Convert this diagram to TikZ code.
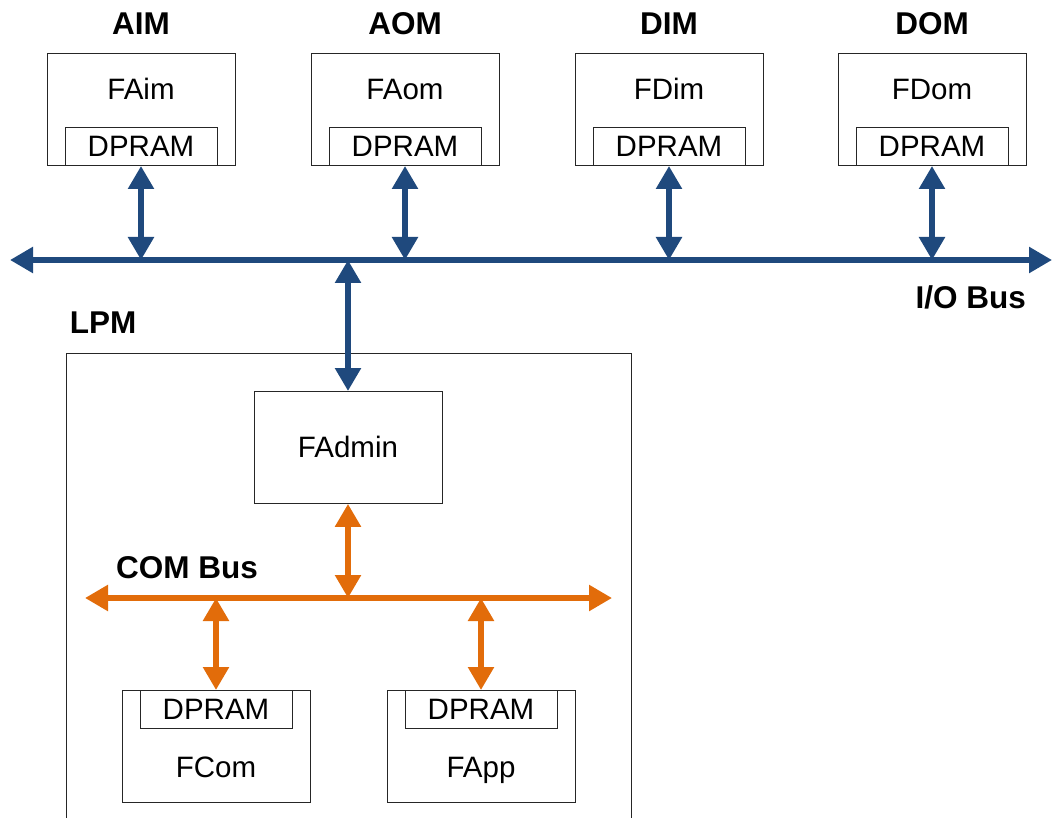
\documentclass[tikz,border=0pt]{standalone}
\usepackage{fontspec}
\setmainfont{Liberation Sans}
\usetikzlibrary{arrows.meta}
\definecolor{busblue}{RGB}{31,73,125}
\definecolor{busorange}{RGB}{226,108,10}
\begin{document}
\begin{tikzpicture}[x=1pt,y=-1pt,
  box/.style={draw=black!85,line width=0.9pt,fill=white,minimum width=188pt,minimum height=112pt,inner sep=0pt,font=\fontsize{29.5}{34}\selectfont},
  ram/.style={draw=black!85,line width=0.9pt,fill=white,minimum width=152pt,minimum height=38pt,inner sep=0pt,font=\fontsize{29.5}{34}\selectfont},
  lbl/.style={font=\fontsize{31.5}{36}\selectfont\bfseries,inner sep=0pt},
  txt/.style={font=\fontsize{29.5}{34}\selectfont,inner sep=0pt,anchor=base},
  bbus/.style={draw=busblue,line width=5.5pt,{Triangle[width=25pt,length=23pt]}-{Triangle[width=25pt,length=23pt]}},
  obus/.style={draw=busorange,line width=5.5pt,{Triangle[width=25pt,length=23pt]}-{Triangle[width=25pt,length=23pt]}}
]
\useasboundingbox (0,0) rectangle (1052,818);
% LPM outer box (bottom beyond page)
\node[draw=black!85,line width=0.9pt,minimum width=565pt,minimum height=500pt,inner sep=0pt,anchor=north west] (lpm) at (66,353) {};
\node[lbl] (lpmlbl) at (103,323) {LPM};

% top modules
\foreach \n/\f/\x in {AIM/FAim/141,AOM/FAom/405,DIM/FDim/669,DOM/FDom/932}{
  \node[lbl] (l\n) at (\x,24) {\n};
  \node[box,anchor=north] (b\n) at (\x,53) {};
  \node[txt] (t\n) at (\x,100) {\f};
  \node[ram,anchor=south] (r\n) at (\x,166) {DPRAM};
}

% I/O bus
\coordinate (ioL) at (10,260);
\coordinate (ioR) at (1052,260);
\draw[bbus] (ioL) -- (ioR);
\node[lbl,anchor=east] (iolbl) at (1026,297) {I/O Bus};
\foreach \n in {AIM,AOM,DIM,DOM}{
  \draw[bbus] (r\n.south) -- (r\n.south |- ioL);
}

% FAdmin
\node[box,anchor=north] (fadmin) at (348,391) {FAdmin};
\coordinate (ioJ) at (348,260);
\draw[bbus] (ioJ) -- (fadmin.north);

% COM bus
\coordinate (comL) at (85,598);
\coordinate (comR) at (612,598);
\draw[obus] (comL) -- (comR);
\node[lbl,anchor=west] (comlbl) at (116,568) {COM Bus};
\draw[obus] (fadmin.south) -- (fadmin.south |- comL);

% lower modules
\node[box,anchor=north] (fcom) at (216,690) {};
\node[ram,anchor=north] (rcom) at (216,690) {DPRAM};
\node[txt] (tcom) at (216,777) {FCom};
\node[box,anchor=north] (fapp) at (481,690) {};
\node[ram,anchor=north] (rapp) at (481,690) {DPRAM};
\node[txt] (tapp) at (481,777) {FApp};
\draw[obus] (rcom.north |- comL) -- (rcom.north);
\draw[obus] (rapp.north |- comL) -- (rapp.north);
\end{tikzpicture}
\end{document}
